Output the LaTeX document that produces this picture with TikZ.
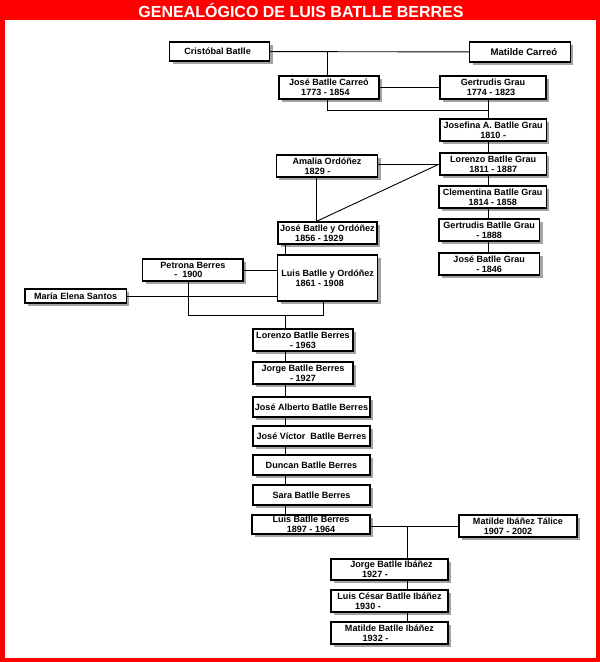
\documentclass[tikz,border=0pt]{standalone}
\usepackage{fontspec}
\setmainfont{Liberation Sans}
\usetikzlibrary{shadows}
\tikzset{%
  % Specifications for style of nodes:
      person/.style = {rectangle, draw=black, line width=1.3pt, fill=white,
                       inner sep=0pt, align=center,
                       font=\fontsize{9.05}{9.7}\selectfont\bfseries,
                       drop shadow={shadow xshift=3pt, shadow yshift=-3pt,
                                    fill=black!40, opacity=.9}},
        link/.style = {line width=0.9pt, black},
}
% second line of a box pushed to the left
\newcommand{\toleft}[2]{#2\hspace*{#1}}

\begin{document}
\begin{tikzpicture}[x=1pt, y=-1pt]
  \useasboundingbox (0,0) rectangle (600,662);
  % Frame and title
  \fill[red]   (0,0) rectangle (600,662);
  \fill[white] (5,20) rectangle (596,658);
  \node (title) [anchor=base, text=white, font=\fontsize{16}{18}\selectfont\bfseries]
                at (301,17) {GENEALÓGICO DE LUIS BATLLE BERRES};

  % Specification of persons (position, size)
  \node (cristobal)   [person, minimum width=100pt, minimum height=19pt] at (219.6,51.5)
                      {\toleft{4pt}{Cristóbal Batlle}};
  \node (matildeC)    [person, minimum width=100.7pt, minimum height=20pt,
                       font=\fontsize{9.6}{10}\selectfont\bfseries] at (519.9,52)
                      {\hspace*{8pt}Matilde Carreó};
  \node (joseBC)      [person, minimum width=100pt, minimum height=23pt] at (328.9,87.5)
                      {José Batlle Carreó\\\toleft{7pt}{1773 - 1854}};
  \node (gertrudisG)  [person, minimum width=106pt, minimum height=23pt] at (493,87.5)
                      {Gertrudis Grau\\\toleft{4pt}{1774 - 1823}};
  \node (josefina)    [person, minimum width=106.4pt, minimum height=22pt] at (493.2,130)
                      {Josefina A. Batlle Grau\\1810 -};
  \node (lorenzoBG)   [person, minimum width=106.4pt, minimum height=22pt] at (493.2,164)
                      {Lorenzo Batlle Grau\\1811 - 1887};
  \node (amalia)      [person, minimum width=101.4pt, minimum height=22pt] at (327,166)
                      {Amalia Ordóñez\\\toleft{19pt}{1829 -}};
  \node (clementina)  [person, minimum width=107.5pt, minimum height=22pt] at (492.7,197)
                      {Clementina Batlle Grau\\1814 - 1858};
  \node (gertrudisBG) [person, minimum width=100.6pt, minimum height=22pt] at (489.2,230)
                      {Gertrudis Batlle Grau\\- 1888};
  \node (joseBG)      [person, minimum width=100.6pt, minimum height=22pt] at (489.2,264)
                      {José Batlle Grau\\- 1846};
  \node (joseBO)      [person, minimum width=99pt, minimum height=22pt] at (327.4,233)
                      {José Batlle y Ordóñez\\\toleft{16pt}{1856 - 1929}};
  \node (luisBO)      [person, minimum width=100pt, minimum height=46pt] at (327.7,278)
                      {Luis Batlle y Ordóñez\\\toleft{16pt}{1861 - 1908}};
  \node (petrona)     [person, minimum width=100.3pt, minimum height=22pt] at (192.9,270)
                      {Petrona Berres\\\toleft{9pt}{- \ 1900}};
  \node (maria)       [person, minimum width=101.4pt, minimum height=14pt] at (75.6,296)
                      {María Elena Santos};

  \node (lorenzoBB)   [person, minimum width=100pt, minimum height=22pt] at (303,340)
                      {Lorenzo Batlle Berres\\- 1963};
  \node (jorgeBB)     [person, minimum width=100pt, minimum height=22pt] at (303,373)
                      {Jorge Batlle Berres\\- 1927};
  \node (joseA)       [person, minimum width=117pt, minimum height=20pt] at (311.5,407)
                      {José Alberto Batlle Berres};
  \node (joseV)       [person, minimum width=117pt, minimum height=20pt] at (311.5,436)
                      {José Víctor \ Batlle Berres};
  \node (duncan)      [person, minimum width=117pt, minimum height=20pt] at (311.5,465)
                      {Duncan Batlle Berres};
  \node (sara)        [person, minimum width=117pt, minimum height=20pt] at (311.5,495)
                      {Sara Batlle Berres};
  \node (luisBB)      [person, minimum width=118pt, minimum height=19pt] at (311,524.5)
                      {Luis Batlle Berres\\1897 - 1964};
  \node (matildeI)    [person, minimum width=118pt, minimum height=22pt] at (518,526)
                      {Matilde Ibáñez Tálice\\\toleft{20pt}{1907 - 2002}};
  \node (jorgeBI)     [person, minimum width=117pt, minimum height=21pt] at (389.5,569.5)
                      {\hspace*{4pt}Jorge Batlle Ibáñez\\\toleft{29pt}{1927 -}};
  \node (luisC)       [person, minimum width=117pt, minimum height=22pt] at (389.5,601)
                      {Luis César Batlle Ibáñez\\\toleft{43pt}{1930 -}};
  \node (matildeB)    [person, minimum width=117pt, minimum height=22pt] at (389.5,633)
                      {Matilde Batlle Ibáñez\\\toleft{28pt}{1932 -}};

  % Points where the family lines turn
  \coordinate (cm)   at (327.5,51.5);
  \coordinate (jg)   at (488.7,110);
  \coordinate (ao)   at (316.5,222);
  \coordinate (col)  at (285.5,250);
  \coordinate (famA) at (188.6,315);
  \coordinate (famB) at (323.3,315);
  \coordinate (ib)   at (407,526);

  % Specification of lines between persons
  \draw[link] (cristobal) -- (matildeC);
  \draw[link] (cm) -- (cm |- joseBC.north);
  \draw[link] (joseBC) -- (gertrudisG);
  \draw[link] (cm |- joseBC.south) |- (jg) -- (jg |- gertrudisG.south);
  \foreach \a/\b in {gertrudisG/josefina, josefina/lorenzoBG, lorenzoBG/clementina,
                     clementina/gertrudisBG, gertrudisBG/joseBG}
    \draw[link] (jg |- \a.south) -- (jg |- \b.north);

  \draw[link] (lorenzoBG.west -| amalia.east) -- (lorenzoBG.west);
  \draw[link] (lorenzoBG.west) -- (ao |- joseBO.north);
  \draw[link] (ao |- amalia.south) -- (ao |- joseBO.north);
  \draw[link] (col |- joseBO.south) -- (col |- luisBO.north);

  \draw[link] (petrona.east) -- (petrona.east -| luisBO.west);
  \draw[link] (maria.east) -- (maria.east -| luisBO.west);
  \draw[link] (famA |- petrona.south) -- (famA) -- (famB) -- (famB |- luisBO.south);
  \draw[link] (col |- famA) -- (col |- lorenzoBB.north);
  \foreach \a/\b in {lorenzoBB/jorgeBB, jorgeBB/joseA, joseA/joseV, joseV/duncan,
                     duncan/sara, sara/luisBB}
    \draw[link] (col |- \a.south) -- (col |- \b.north);

  \draw[link] (matildeI.west -| luisBB.east) -- (matildeI.west);
  \draw[link] (ib) -- (ib |- jorgeBI.north);
  \foreach \a/\b in {jorgeBI/luisC, luisC/matildeB}
    \draw[link] (ib |- \a.south) -- (ib |- \b.north);
\end{tikzpicture}
\end{document}
